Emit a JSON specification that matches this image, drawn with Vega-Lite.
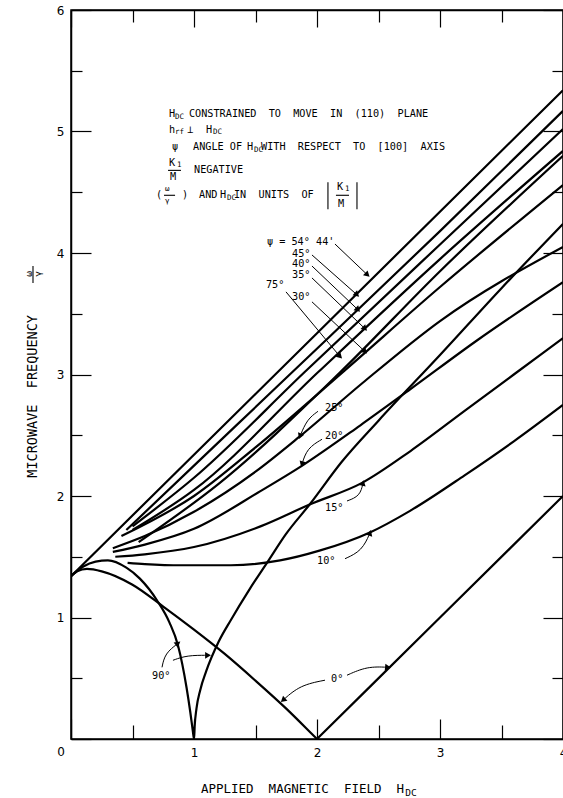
{
  "$schema": "https://vega.github.io/schema/vega-lite/v6.json",
  "width": 492,
  "height": 729,
  "autosize": "none",
  "padding": {"left": 71, "top": 10, "right": 0, "bottom": 59},
  "background": "white",
  "config": {
    "view": {"stroke": "black", "strokeWidth": 1.5},
    "axis": {"domainColor": "black", "domainWidth": 1.5, "tickColor": "black", "tickWidth": 1.2, "labelColor": "black", "grid": false, "labelFont": "DejaVu Sans", "labelFontSize": 12, "labelFlush": false, "labelOverlap": false, "format": "d"},
    "text": {"fill": "black"}
  },
  "datasets": {
    "curves": [
      {"c": "0", "x": 0, "y": 1.34}, {"c": "0", "x": 0.05, "y": 1.38}, {"c": "0", "x": 0.13, "y": 1.4}, {"c": "0", "x": 0.25, "y": 1.38}, {"c": "0", "x": 0.5, "y": 1.27}, {"c": "0", "x": 0.75, "y": 1.09}, {"c": "0", "x": 1.0, "y": 0.9}, {"c": "0", "x": 1.25, "y": 0.7}, {"c": "0", "x": 1.5, "y": 0.48}, {"c": "0", "x": 1.75, "y": 0.25}, {"c": "0", "x": 1.99, "y": 0.01}, {"c": "0", "x": 2.0, "y": 0}, {"c": "0", "x": 2.01, "y": 0.01}, {"c": "0", "x": 3.0, "y": 1.0}, {"c": "0", "x": 4.0, "y": 2.0},
      {"c": "90", "x": 0, "y": 1.34}, {"c": "90", "x": 0.1, "y": 1.42}, {"c": "90", "x": 0.2, "y": 1.46}, {"c": "90", "x": 0.3, "y": 1.47}, {"c": "90", "x": 0.45, "y": 1.41}, {"c": "90", "x": 0.56, "y": 1.32}, {"c": "90", "x": 0.7, "y": 1.14}, {"c": "90", "x": 0.8, "y": 0.96}, {"c": "90", "x": 0.87, "y": 0.77}, {"c": "90", "x": 0.94, "y": 0.42}, {"c": "90", "x": 0.97, "y": 0.22}, {"c": "90", "x": 0.99, "y": 0.07}, {"c": "90", "x": 1.0, "y": 0}, {"c": "90", "x": 1.005, "y": 0.1}, {"c": "90", "x": 1.02, "y": 0.25}, {"c": "90", "x": 1.05, "y": 0.4}, {"c": "90", "x": 1.1, "y": 0.56}, {"c": "90", "x": 1.2, "y": 0.8}, {"c": "90", "x": 1.3, "y": 0.98}, {"c": "90", "x": 1.45, "y": 1.23}, {"c": "90", "x": 1.6, "y": 1.46}, {"c": "90", "x": 1.75, "y": 1.69}, {"c": "90", "x": 1.94, "y": 1.93}, {"c": "90", "x": 2.2, "y": 2.28}, {"c": "90", "x": 2.5, "y": 2.62}, {"c": "90", "x": 3.0, "y": 3.16}, {"c": "90", "x": 3.5, "y": 3.71}, {"c": "90", "x": 4.0, "y": 4.24},
      {"c": "10", "x": 0.46, "y": 1.45}, {"c": "10", "x": 0.6, "y": 1.44}, {"c": "10", "x": 0.9, "y": 1.43}, {"c": "10", "x": 1.3, "y": 1.43}, {"c": "10", "x": 1.7, "y": 1.47}, {"c": "10", "x": 2.02, "y": 1.55}, {"c": "10", "x": 2.43, "y": 1.7}, {"c": "10", "x": 2.76, "y": 1.88}, {"c": "10", "x": 3.2, "y": 2.17}, {"c": "10", "x": 3.6, "y": 2.45}, {"c": "10", "x": 4.0, "y": 2.75},
      {"c": "15", "x": 0.36, "y": 1.5}, {"c": "15", "x": 0.6, "y": 1.52}, {"c": "15", "x": 1.0, "y": 1.58}, {"c": "15", "x": 1.54, "y": 1.75}, {"c": "15", "x": 1.94, "y": 1.93}, {"c": "15", "x": 2.37, "y": 2.11}, {"c": "15", "x": 2.76, "y": 2.37}, {"c": "15", "x": 3.2, "y": 2.7}, {"c": "15", "x": 3.6, "y": 3.0}, {"c": "15", "x": 4.0, "y": 3.3},
      {"c": "20", "x": 0.34, "y": 1.54}, {"c": "20", "x": 0.6, "y": 1.6}, {"c": "20", "x": 1.0, "y": 1.73}, {"c": "20", "x": 1.54, "y": 2.04}, {"c": "20", "x": 1.88, "y": 2.25}, {"c": "20", "x": 2.35, "y": 2.58}, {"c": "20", "x": 2.76, "y": 2.88}, {"c": "20", "x": 3.3, "y": 3.28}, {"c": "20", "x": 4.0, "y": 3.76},
      {"c": "25", "x": 0.34, "y": 1.57}, {"c": "25", "x": 0.6, "y": 1.67}, {"c": "25", "x": 1.0, "y": 1.87}, {"c": "25", "x": 1.5, "y": 2.2}, {"c": "25", "x": 1.86, "y": 2.49}, {"c": "25", "x": 2.37, "y": 2.93}, {"c": "25", "x": 3.0, "y": 3.44}, {"c": "25", "x": 4.0, "y": 4.05},
      {"c": "30", "x": 0.41, "y": 1.67}, {"c": "30", "x": 1.0, "y": 2.0}, {"c": "30", "x": 1.5, "y": 2.4}, {"c": "30", "x": 2.21, "y": 3.02}, {"c": "30", "x": 3.0, "y": 3.72}, {"c": "30", "x": 4.0, "y": 4.56},
      {"c": "35", "x": 0.5, "y": 1.72}, {"c": "35", "x": 1.0, "y": 2.05}, {"c": "35", "x": 2.01, "y": 3.02}, {"c": "35", "x": 3.0, "y": 3.95}, {"c": "35", "x": 4.0, "y": 4.84},
      {"c": "75", "x": 0.55, "y": 1.62}, {"c": "75", "x": 1.2, "y": 2.1}, {"c": "75", "x": 2.19, "y": 3.02}, {"c": "75", "x": 3.0, "y": 3.85}, {"c": "75", "x": 4.0, "y": 4.8},
      {"c": "40", "x": 0.5, "y": 1.75}, {"c": "40", "x": 1.0, "y": 2.15}, {"c": "40", "x": 1.9, "y": 3.02}, {"c": "40", "x": 3.0, "y": 4.07}, {"c": "40", "x": 4.0, "y": 5.02},
      {"c": "45", "x": 0.45, "y": 1.72}, {"c": "45", "x": 1.0, "y": 2.25}, {"c": "45", "x": 1.8, "y": 3.02}, {"c": "45", "x": 3.0, "y": 4.18}, {"c": "45", "x": 4.0, "y": 5.17},
      {"c": "54", "x": 0, "y": 1.34}, {"c": "54", "x": 2.0, "y": 3.34}, {"c": "54", "x": 4.0, "y": 5.34}
    ],
    "arrows": [
      {"a": "54", "x": 2.146, "y": 4.074}, {"a": "54", "x": 2.41, "y": 3.82},
      {"a": "45", "x": 1.959, "y": 3.984}, {"a": "45", "x": 2.325, "y": 3.656},
      {"a": "40", "x": 1.959, "y": 3.893}, {"a": "40", "x": 2.333, "y": 3.533},
      {"a": "35", "x": 1.959, "y": 3.795}, {"a": "35", "x": 2.39, "y": 3.377},
      {"a": "75", "x": 1.748, "y": 3.68}, {"a": "75", "x": 2.187, "y": 3.148},
      {"a": "30", "x": 1.959, "y": 3.598}, {"a": "30", "x": 2.39, "y": 3.189},
      {"a": "25", "x": 2.008, "y": 2.697}, {"a": "25", "x": 1.919, "y": 2.631}, {"a": "25", "x": 1.862, "y": 2.492},
      {"a": "20", "x": 2.041, "y": 2.467}, {"a": "20", "x": 1.919, "y": 2.393}, {"a": "20", "x": 1.878, "y": 2.262},
      {"a": "15", "x": 2.244, "y": 1.959}, {"a": "15", "x": 2.35, "y": 2.0}, {"a": "15", "x": 2.374, "y": 2.107},
      {"a": "10", "x": 2.228, "y": 1.484}, {"a": "10", "x": 2.366, "y": 1.549}, {"a": "10", "x": 2.431, "y": 1.697},
      {"a": "0L", "x": 2.065, "y": 0.484}, {"a": "0L", "x": 1.862, "y": 0.443}, {"a": "0L", "x": 1.724, "y": 0.32},
      {"a": "0R", "x": 2.244, "y": 0.525}, {"a": "0R", "x": 2.407, "y": 0.598}, {"a": "0R", "x": 2.577, "y": 0.59},
      {"a": "90a", "x": 0.74, "y": 0.59}, {"a": "90a", "x": 0.764, "y": 0.705}, {"a": "90a", "x": 0.87, "y": 0.787},
      {"a": "90b", "x": 0.829, "y": 0.648}, {"a": "90b", "x": 0.943, "y": 0.689}, {"a": "90b", "x": 1.114, "y": 0.689}
    ],
    "heads": [
      {"x": 2.41, "y": 3.82, "ang": 43}, {"x": 2.325, "y": 3.656, "ang": 42}, {"x": 2.333, "y": 3.533, "ang": 44}, {"x": 2.39, "y": 3.377, "ang": 44}, {"x": 2.187, "y": 3.148, "ang": 45}, {"x": 2.39, "y": 3.189, "ang": 43},
      {"x": 1.862, "y": 2.492, "ang": 112}, {"x": 1.878, "y": 2.262, "ang": 107}, {"x": 2.374, "y": 2.107, "ang": 283}, {"x": 2.431, "y": 1.697, "ang": 290},
      {"x": 1.724, "y": 0.32, "ang": 139}, {"x": 2.577, "y": 0.59, "ang": 5}, {"x": 0.87, "y": 0.787, "ang": 322}, {"x": 1.114, "y": 0.689, "ang": 0}
    ],
    "labels": [
      {"t": "ψ = 54° 44'", "x": 1.593, "y": 4.09}, {"t": "45°", "x": 1.797, "y": 3.992}, {"t": "40°", "x": 1.797, "y": 3.91}, {"t": "35°", "x": 1.797, "y": 3.82}, {"t": "75°", "x": 1.585, "y": 3.738}, {"t": "30°", "x": 1.797, "y": 3.639},
      {"t": "25°", "x": 2.065, "y": 2.721}, {"t": "20°", "x": 2.065, "y": 2.492}, {"t": "15°", "x": 2.065, "y": 1.902}, {"t": "10°", "x": 2.0, "y": 1.467}, {"t": "0°", "x": 2.114, "y": 0.492}, {"t": "90°", "x": 0.659, "y": 0.516},
      {"t": "H", "x": 0.797, "y": 5.148}, {"t": "CONSTRAINED \u00a0TO \u00a0MOVE \u00a0IN \u00a0(110) \u00a0PLANE", "x": 0.959, "y": 5.148},
      {"t": "h", "x": 0.797, "y": 5.016}, {"t": "⊥", "x": 0.943, "y": 5.016}, {"t": "H", "x": 1.098, "y": 5.016},
      {"t": "ψ", "x": 0.821, "y": 4.869}, {"t": "ANGLE OF", "x": 0.992, "y": 4.869}, {"t": "H", "x": 1.431, "y": 4.869}, {"t": "WITH \u00a0RESPECT \u00a0TO \u00a0[100] \u00a0AXIS", "x": 1.545, "y": 4.869},
      {"t": "K", "x": 0.797, "y": 4.738}, {"t": "M", "x": 0.805, "y": 4.623}, {"t": "NEGATIVE", "x": 1.0, "y": 4.68},
      {"t": "(", "x": 0.691, "y": 4.475}, {"t": ")", "x": 0.902, "y": 4.475}, {"t": "AND", "x": 1.041, "y": 4.475}, {"t": "H", "x": 1.211, "y": 4.475}, {"t": "IN \u00a0UNITS \u00a0OF", "x": 1.325, "y": 4.475},
      {"t": "K", "x": 2.163, "y": 4.541}, {"t": "M", "x": 2.171, "y": 4.402}
    ],
    "small": [
      {"t": "DC", "x": 0.846, "y": 5.123}, {"t": "rf", "x": 0.846, "y": 4.992}, {"t": "DC", "x": 1.154, "y": 4.992}, {"t": "DC", "x": 1.488, "y": 4.844},
      {"t": "1", "x": 0.862, "y": 4.721}, {"t": "ω", "x": 0.764, "y": 4.525}, {"t": "γ", "x": 0.764, "y": 4.426}, {"t": "DC", "x": 1.268, "y": 4.451}, {"t": "1", "x": 2.228, "y": 4.525}
    ],
    "bars": [
      {"x": 0.789, "x2": 0.894, "y": 4.68, "y2": 4.68},
      {"x": 0.756, "x2": 0.846, "y": 4.475, "y2": 4.475},
      {"x": 2.154, "x2": 2.26, "y": 4.475, "y2": 4.475},
      {"x": 2.089, "x2": 2.089, "y": 4.582, "y2": 4.361},
      {"x": 2.325, "x2": 2.325, "y": 4.582, "y2": 4.361},
      {"x": -0.309, "x2": -0.309, "y": 3.893, "y2": 3.754}
    ],
    "xtitle": [
      {"t": "APPLIED \u00a0MAGNETIC \u00a0FIELD \u00a0H", "x": 1.882, "y": -0.41}
    ],
    "ytitle": [
      {"t": "MICROWAVE \u00a0FREQUENCY", "x": -0.309, "y": 2.82}
    ],
    "titlesmall": [
      {"t": "DC", "x": 2.764, "y": -0.443, "ang": 0},
      {"t": "ω", "x": -0.341, "y": 3.828, "ang": 270},
      {"t": "γ", "x": -0.268, "y": 3.828, "ang": 270}
    ],
    "corner": [{"t": "0", "x": 0, "y": 0}]
  },
  "layer": [
    {
      "data": {"name": "curves"},
      "mark": {"type": "line", "color": "black", "strokeWidth": 2.2, "interpolate": "monotone", "clip": true},
      "encoding": {
        "x": {"field": "x", "type": "quantitative", "scale": {"domain": [0, 4], "nice": false, "zero": false},
          "axis": {"orient": "bottom", "title": null, "values": [0, 1, 2, 3, 4], "labelExpr": "datum.value > 0 ? datum.label : ''", "tickSize": -20, "labelPadding": 28}},
        "y": {"field": "y", "type": "quantitative", "scale": {"domain": [0, 6], "nice": false, "zero": false},
          "axis": {"orient": "left", "title": null, "values": [0, 1, 2, 3, 4, 5, 6], "labelExpr": "datum.value > 0 ? datum.label : ''", "tickSize": -20, "labelPadding": 27}},
        "detail": {"field": "c", "type": "nominal"}
      }
    },
    {
      "data": {"name": "arrows"},
      "mark": {"type": "line", "color": "black", "strokeWidth": 1, "interpolate": "basis"},
      "encoding": {
        "x": {"field": "x", "type": "quantitative", "axis": {"orient": "top", "title": null, "values": [0, 1, 2, 3, 4], "labels": false, "tickSize": -17}},
        "y": {"field": "y", "type": "quantitative", "axis": {"orient": "right", "title": null, "values": [0, 1, 2, 3, 4, 5, 6], "labels": false, "tickSize": -20}},
        "detail": {"field": "a", "type": "nominal"}
      }
    },
    {
      "data": {"name": "heads"},
      "mark": {"type": "point", "shape": "triangle-right", "filled": true, "color": "black", "size": 45, "opacity": 1},
      "encoding": {
        "x": {"field": "x", "type": "quantitative", "axis": {"orient": "bottom", "title": null, "values": [0.5, 1.5, 2.5, 3.5], "labels": false, "domain": false, "tickSize": -14}},
        "y": {"field": "y", "type": "quantitative", "axis": {"orient": "left", "title": null, "values": [0.5, 1.5, 2.5, 3.5, 4.5, 5.5], "labels": false, "domain": false, "tickSize": -11}},
        "angle": {"field": "ang", "type": "quantitative", "scale": null}
      }
    },
    {
      "data": {"name": "labels"},
      "mark": {"type": "text", "font": "DejaVu Sans Mono", "fontSize": 10.2, "align": "left", "baseline": "middle", "fill": "black"},
      "encoding": {
        "x": {"field": "x", "type": "quantitative", "axis": {"orient": "top", "title": null, "values": [0.5, 1.5, 2.5, 3.5], "labels": false, "domain": false, "tickSize": -12}},
        "y": {"field": "y", "type": "quantitative", "axis": {"orient": "right", "title": null, "values": [0.5, 1.5, 2.5, 3.5, 4.5, 5.5], "labels": false, "domain": false, "tickSize": -11}},
        "text": {"field": "t"}
      }
    },
    {
      "data": {"name": "small"},
      "mark": {"type": "text", "font": "DejaVu Sans Mono", "fontSize": 7.5, "align": "left", "baseline": "middle", "fill": "black"},
      "encoding": {
        "x": {"field": "x", "type": "quantitative", "axis": null},
        "y": {"field": "y", "type": "quantitative", "axis": null},
        "text": {"field": "t"}
      }
    },
    {
      "data": {"name": "bars"},
      "mark": {"type": "rule", "color": "black", "strokeWidth": 1.1},
      "encoding": {
        "x": {"field": "x", "type": "quantitative", "axis": null},
        "x2": {"field": "x2"},
        "y": {"field": "y", "type": "quantitative", "axis": null},
        "y2": {"field": "y2"}
      }
    },
    {
      "data": {"name": "xtitle"},
      "mark": {"type": "text", "font": "DejaVu Sans Mono", "fontSize": 12.5, "align": "center", "baseline": "middle", "fill": "black"},
      "encoding": {
        "x": {"field": "x", "type": "quantitative", "axis": null},
        "y": {"field": "y", "type": "quantitative", "axis": null},
        "text": {"field": "t"}
      }
    },
    {
      "data": {"name": "ytitle"},
      "mark": {"type": "text", "font": "DejaVu Sans Mono", "fontSize": 13.5, "align": "center", "baseline": "middle", "fill": "black", "angle": 270},
      "encoding": {
        "x": {"field": "x", "type": "quantitative", "axis": null},
        "y": {"field": "y", "type": "quantitative", "axis": null},
        "text": {"field": "t"}
      }
    },
    {
      "data": {"name": "titlesmall"},
      "mark": {"type": "text", "font": "DejaVu Sans Mono", "fontSize": 9.5, "align": "center", "baseline": "middle", "fill": "black"},
      "encoding": {
        "x": {"field": "x", "type": "quantitative", "axis": null},
        "y": {"field": "y", "type": "quantitative", "axis": null},
        "text": {"field": "t"},
        "angle": {"field": "ang", "type": "quantitative", "scale": null}
      }
    },
    {
      "data": {"name": "corner"},
      "mark": {"type": "text", "font": "DejaVu Sans", "fontSize": 12, "align": "center", "baseline": "middle", "fill": "black", "dx": -10, "dy": 13},
      "encoding": {
        "x": {"field": "x", "type": "quantitative", "axis": null},
        "y": {"field": "y", "type": "quantitative", "axis": null},
        "text": {"field": "t"}
      }
    }
  ],
  "resolve": {"axis": {"x": "independent", "y": "independent"}}
}
